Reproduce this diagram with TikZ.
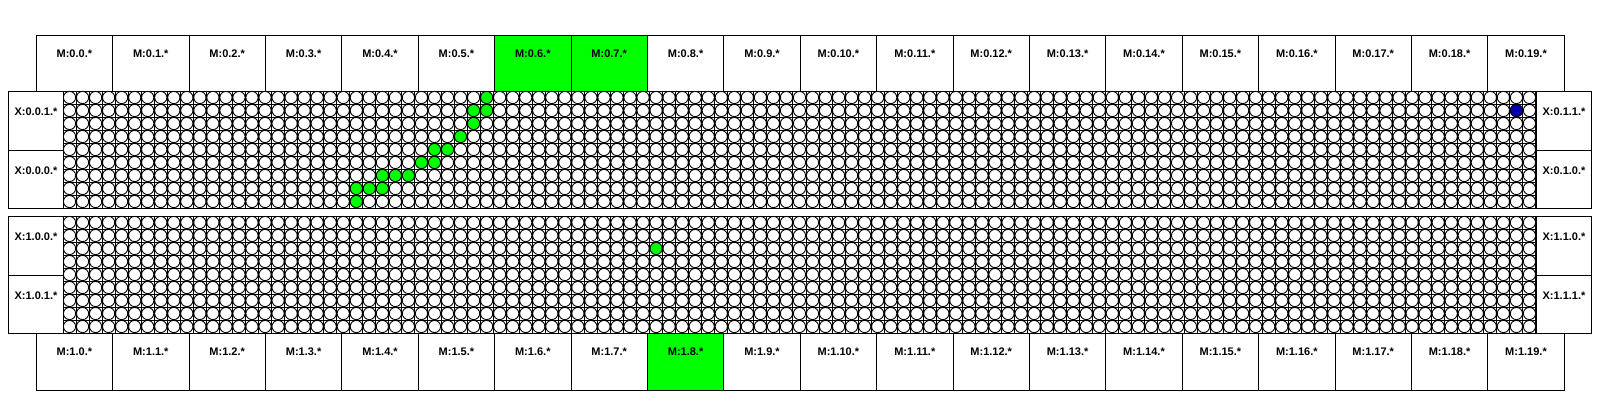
\documentclass[tikz,border=0pt]{standalone}
\usepackage{fontspec}
\newfontfamily\lblfont{Liberation Sans}
\usetikzlibrary{positioning}

\begin{document}
\begin{tikzpicture}[
  x=1pt, y=-1pt,
  box/.style={draw, line width=1pt, inner sep=0pt, anchor=north west, font=\lblfont\bfseries\fontsize{11}{13}\selectfont},
  mbox/.style={box, minimum width=76.4pt, text height=22pt, text depth=34.5pt},
  xbox/.style={box, minimum width=55pt, text height=24pt, text depth=34.5pt},
  hot/.style={fill=green},
  top6/.style={hot}, top7/.style={hot}, bot8/.style={hot},
  gridline/.style={line width=1pt},
  cell/.style={draw, line width=0.9pt},
  dot/.style={fill=green},
  probe/.style={fill=probeblue}
]
  \definecolor{probeblue}{RGB}{0,0,175}
  \useasboundingbox (0,0) rectangle (1600,400);

  % M columns above and below the boards
  \foreach \i in {0,...,19}
    \node[mbox, top\i/.try] (top\i) at ({35.7+76.4*\i},34.5) {M:0.\i.*};
  \foreach \i in {0,...,19}
    \node[mbox, bot\i/.try] (bot\i) at ({35.7+76.4*\i},333) {M:1.\i.*};

  % X rows at both ends
  \node[xbox] (xa1) at (8,91) {X:0.0.1.*};
  \node[xbox] (xa0) at (8,149.5) {X:0.0.0.*};
  \node[xbox] (xb1) at (1536,91) {X:0.1.1.*};
  \node[xbox] (xb0) at (1536,149.5) {X:0.1.0.*};
  \node[xbox] (xc0) at (8,216) {X:1.0.0.*};
  \node[xbox] (xc1) at (8,274.5) {X:1.0.1.*};
  \node[xbox] (xd0) at (1536,216) {X:1.1.0.*};
  \node[xbox] (xd1) at (1536,274.5) {X:1.1.1.*};

  % upper board
  \begin{scope}[shift={(63,91)}]
    \foreach \c/\r in {32/0,31/1,32/1,31/2,30/3,28/4,29/4,27/5,28/5,24/6,25/6,26/6,22/7,23/7,24/7,22/8}
      \fill[dot] ({(\c+0.5)*13.035},{(\r+0.5)*13}) circle[radius=6.5pt];
    \fill[probe] ({(111+0.5)*13.035},{(1+0.5)*13}) circle[radius=6.6pt];
    \foreach \c in {0,...,113} \draw[gridline] ({\c*13.035},0) -- ({\c*13.035},117);
    \foreach \r in {0,...,9} \draw[gridline] (0,{\r*13}) -- (1473,{\r*13});
    \foreach \c in {0,...,112} \foreach \r in {0,...,8}
      \draw[cell] ({(\c+0.5)*13.035},{(\r+0.5)*13}) circle[radius=6.1pt];
  \end{scope}

  % lower board
  \begin{scope}[shift={(63,216)}]
    \fill[dot] ({(45+0.5)*13.035},{(2+0.5)*13}) circle[radius=6.5pt];
    \foreach \c in {0,...,113} \draw[gridline] ({\c*13.035},0) -- ({\c*13.035},117);
    \foreach \r in {0,...,9} \draw[gridline] (0,{\r*13}) -- (1473,{\r*13});
    \foreach \c in {0,...,112} \foreach \r in {0,...,8}
      \draw[cell] ({(\c+0.5)*13.035},{(\r+0.5)*13}) circle[radius=6.1pt];
  \end{scope}
\end{tikzpicture}
\end{document}
